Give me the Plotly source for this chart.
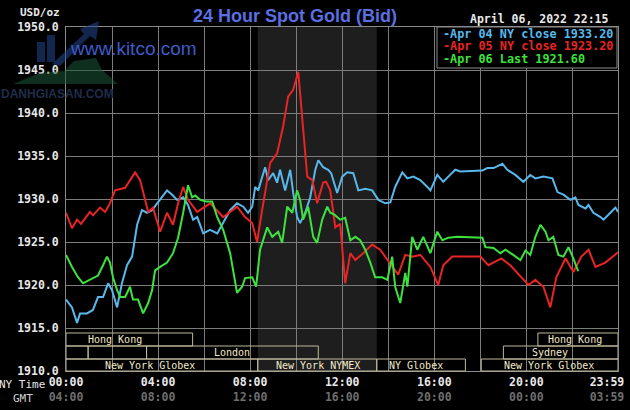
import plotly.graph_objects as go

# ---------------- data ----------------
apr04_t = [0.00,0.26,0.48,0.61,0.91,1.17,1.39,1.61,1.83,2.00,2.22,2.43,2.65,2.87,3.09,3.30,3.52,3.74,3.96,4.17,
           4.39,4.61,4.83,5.09,5.30,5.52,5.70,5.96,6.26,6.57,6.83,7.13,7.43,7.70,7.91,8.09,8.22,8.35,8.65,8.78,
           9.00,9.17,9.30,9.52,9.74,9.87,10.04,10.17,10.39,10.61,10.83,10.96,11.17,11.39,11.52,11.78,12.00,12.22,12.48,12.70,
           13.00,13.30,13.57,13.87,14.09,14.30,14.61,14.83,15.09,15.39,15.70,15.83,16.13,16.39,16.61,16.91,17.13,18.09,18.30,18.57,
           18.96,19.17,19.52,19.87,20.17,20.39,20.74,21.13,21.35,21.61,21.91,22.13,22.26,22.57,22.70,22.91,23.22,23.35,23.65,23.87,23.98]
apr04_p = [1918.3,1917.4,1915.6,1916.7,1916.7,1917.1,1918.6,1918.6,1920.2,1919.4,1917.4,1920.2,1922.3,1923.3,1927.0,1928.7,1928.4,1928.7,1929.5,1930.2,
           1931.0,1930.5,1929.9,1930.2,1929.3,1927.6,1927.9,1926.0,1926.4,1926.0,1927.2,1928.7,1929.5,1929.1,1928.4,1929.1,1931.4,1931.0,1933.7,1932.2,
           1933.0,1931.9,1933.4,1931.0,1933.4,1930.7,1927.9,1927.2,1928.4,1930.2,1933.4,1934.5,1933.7,1933.4,1933.0,1930.7,1932.6,1933.1,1933.0,1931.0,
           1931.2,1931.0,1929.9,1929.5,1929.6,1931.4,1933.1,1932.4,1932.6,1932.2,1931.4,1931.0,1932.8,1932.0,1932.6,1933.4,1933.2,1933.3,1933.6,1933.6,
           1934.1,1933.4,1932.8,1932.0,1932.8,1932.4,1932.6,1932.4,1930.8,1930.5,1929.9,1930.2,1929.3,1928.9,1929.3,1928.4,1927.9,1927.6,1928.4,1929.0,1928.5]

apr05_t = [0.00,0.26,0.48,0.65,1.04,1.17,1.48,1.70,1.91,2.13,2.57,3.00,3.22,3.43,3.57,3.78,4.09,4.39,4.65,4.87,
           5.09,5.30,5.52,5.70,6.26,6.83,7.43,7.78,8.09,8.30,8.52,8.87,9.17,9.43,9.65,9.87,10.09,10.26,10.48,10.70,
           10.91,11.17,11.30,11.48,11.70,11.91,12.13,12.35,12.57,12.91,13.30,13.65,13.96,14.17,14.43,14.74,15.04,15.39,15.83,16.17,
           16.39,16.78,17.13,18.00,18.35,18.91,19.30,19.78,20.09,20.39,20.74,21.04,21.30,21.70,22.04,22.39,22.70,23.00,23.43,23.98]
apr05_p = [1928.4,1926.6,1927.6,1927.1,1928.5,1928.1,1929.0,1928.5,1929.5,1931.0,1931.3,1933.1,1932.2,1929.9,1928.5,1929.0,1926.2,1928.4,1927.0,1929.5,
           1931.4,1929.9,1929.1,1928.5,1929.5,1927.9,1929.1,1927.9,1927.2,1925.0,1928.7,1934.2,1935.3,1938.4,1941.9,1942.7,1944.8,1939.2,1932.6,1932.2,
           1929.5,1931.9,1932.0,1931.0,1926.7,1927.1,1920.2,1923.7,1922.9,1923.7,1924.7,1924.1,1922.9,1922.1,1921.2,1923.5,1923.3,1923.5,1922.1,1920.0,
           1922.3,1923.3,1923.3,1923.3,1922.3,1923.1,1922.3,1920.9,1920.0,1920.6,1919.8,1917.4,1920.9,1923.1,1921.5,1923.3,1924.1,1922.1,1922.6,1923.8]

apr06_t = [0.00,0.26,0.52,0.74,0.96,1.17,1.39,1.61,1.78,1.91,2.04,2.22,2.35,2.57,2.78,2.91,3.13,3.35,3.57,3.74,
           3.87,4.09,4.39,4.65,4.87,5.09,5.30,5.48,5.61,5.83,6.09,6.35,6.57,6.83,7.13,7.43,7.65,7.78,8.09,8.26,
           8.43,8.74,8.96,9.22,9.39,9.61,9.83,10.04,10.17,10.30,10.52,10.74,10.91,11.13,11.35,11.48,11.65,11.91,12.13,12.35,
           12.57,12.78,13.00,13.22,13.43,13.74,13.96,14.17,14.30,14.52,14.74,14.83,15.04,15.26,15.52,15.83,16.13,16.35,16.61,17.00,
           18.09,18.22,18.57,18.87,19.09,19.43,19.74,19.96,20.17,20.39,20.61,20.83,20.96,21.17,21.39,21.61,21.83,22.04,22.25]
apr06_p = [1923.5,1922.1,1920.9,1920.2,1920.5,1920.8,1921.1,1922.3,1923.3,1922.6,1920.9,1919.4,1918.6,1918.6,1919.8,1918.3,1918.3,1916.7,1917.9,1919.4,
           1921.7,1922.1,1922.6,1923.7,1925.5,1928.4,1931.6,1930.2,1930.4,1929.9,1929.7,1929.7,1927.9,1926.4,1923.7,1919.1,1919.8,1920.8,1920.9,1919.8,
           1924.1,1926.7,1925.6,1926.2,1924.9,1929.1,1928.4,1931.0,1929.9,1927.6,1929.1,1925.6,1924.9,1927.6,1929.1,1928.4,1928.2,1927.6,1927.8,1925.2,
           1925.6,1925.2,1924.1,1922.6,1920.9,1920.9,1920.6,1923.3,1919.8,1917.9,1921.4,1919.8,1925.6,1924.1,1925.6,1923.7,1926.2,1925.2,1925.5,1925.6,
           1925.5,1924.4,1924.3,1923.7,1924.1,1923.5,1922.9,1924.0,1923.5,1925.6,1927.0,1926.2,1925.2,1925.6,1923.5,1923.3,1924.4,1923.1,1921.6]

series_names = ["Apr 04 NY close", "Apr 05 NY close", "Apr 06 Last"]
series_last = [1933.20, 1923.20, 1921.60]
series_colors = ["#58b8ec", "#e82424", "#3ee23e"]

y_ticks = [1910, 1915, 1920, 1925, 1930, 1935, 1940, 1945, 1950]
x_tick_hours = [0, 4, 8, 12, 16, 20, 23.5]
ny_labels = ["00:00", "04:00", "08:00", "12:00", "16:00", "20:00", "23:59"]
gmt_labels = ["04:00", "08:00", "12:00", "16:00", "20:00", "00:00", "03:59"]

# sessions: name, start hour, end hour, row, label hour
sessions = [
    ("Hong Kong", 0.0, 5.5, 0, 2.13),
    ("Hong Kong", 20.5, 23.98, 0, 22.1),
    ("", 0.0, 0.96, 1, None),
    ("", 0.96, 3.5, 1, None),
    ("London", 3.5, 10.96, 1, 7.2),
    ("Sydney", 19.0, 23.98, 1, 21.04),
    ("New York Globex", 0.0, 8.33, 2, 3.65),
    ("New York NYMEX", 8.33, 13.5, 2, 10.95),
    ("NY Globex", 13.5, 17.35, 2, 15.2),
    ("New York Globex", 18.04, 23.98, 2, 21.0),
]
nymex_shade = (8.33, 13.5)

# ---------------- figure ----------------
W, H = 630, 410
L, R, T, B = 66, 12, 27, 39
PW, PH = W - L - R, H - T - B

def px2x(px):
    return (px - L) / PW

def py2y(py):
    return (H - B - py) / PH

def poly(pts):
    return "M " + " L ".join(f"{px2x(a)} {py2y(b)}" for a, b in pts) + " Z"

MONO = "DejaVu Sans Mono"
fig = go.Figure()
for t, p, c, n in zip([apr04_t, apr05_t, apr06_t], [apr04_p, apr05_p, apr06_p], series_colors, series_names):
    fig.add_trace(go.Scatter(x=t, y=p, mode="lines", name=n,
                             line=dict(color=c, width=2), showlegend=False, hoverinfo="skip"))

shapes = []
shapes.append(dict(type="rect", xref="x", yref="paper", x0=nymex_shade[0], x1=nymex_shade[1],
                   y0=0, y1=1, fillcolor="#1e1e1e", line=dict(width=0), layer="below"))

row_px = [(333, 346), (346, 359), (359, 371)]
annotations = []
for name, s, e, row, lx in sessions:
    top, bot = row_px[row]
    shapes.append(dict(type="rect", xref="x", yref="paper", x0=s, x1=e,
                       y0=py2y(bot), y1=py2y(top), line=dict(color="#bfb89a", width=1),
                       fillcolor="rgba(0,0,0,0)", layer="above"))
    if name:
        annotations.append(dict(x=lx, y=py2y((top + bot) / 2), xref="x", yref="paper", text=name,
                                showarrow=False, font=dict(family=MONO, size=10, color="#f2eac8"),
                                xanchor="center", yanchor="middle"))

# legend box
shapes.append(dict(type="rect", xref="paper", yref="paper", x0=px2x(437), x1=px2x(617),
                   y0=py2y(68), y1=py2y(27), fillcolor="#000000", line=dict(color="#8a8a8a", width=1),
                   layer="above"))
for i, (n, v, c) in enumerate(zip(series_names, series_last, series_colors)):
    annotations.append(dict(x=px2x(441), y=py2y(34 + 12.3 * i), xref="paper", yref="paper",
                            text=f"-{n} {v:.2f}", showarrow=False, xanchor="left", yanchor="middle",
                            font=dict(family=MONO, size=11.8, color=c, weight="bold")))

# logo watermark (faint)
LOGO_BLUE = "rgba(35,70,140,0.55)"
LOGO_GREEN = "rgba(25,85,55,0.55)"
shapes += [
    dict(type="path", xref="paper", yref="paper", path=poly([(37, 62), (37, 42), (45, 42), (45, 62)]),
         fillcolor=LOGO_BLUE, line=dict(width=0), layer="above"),
    dict(type="path", xref="paper", yref="paper", path=poly([(47, 62), (47, 35), (55, 35), (55, 62)]),
         fillcolor=LOGO_BLUE, line=dict(width=0), layer="above"),
    dict(type="path", xref="paper", yref="paper",
         path=poly([(52, 64), (84, 34), (80, 29), (99, 21), (96, 40), (90, 36), (60, 66)]),
         fillcolor=LOGO_BLUE, line=dict(width=0), layer="above"),
    dict(type="path", xref="paper", yref="paper",
         path=poly([(13, 84), (40, 73), (64, 71), (74, 61), (96, 58), (102, 70), (118, 84)]),
         fillcolor=LOGO_GREEN, line=dict(width=0), layer="above"),
]

annotations += [
    dict(x=px2x(295), y=py2y(16), xref="paper", yref="paper", text="<b>24 Hour Spot Gold (Bid)</b>",
         showarrow=False, font=dict(family="Liberation Sans", size=18, color="#5a6fe0"),
         xanchor="center", yanchor="middle"),
    dict(x=px2x(40), y=py2y(13), xref="paper", yref="paper", text="USD/oz", showarrow=False,
         font=dict(family=MONO, size=11, color="#e8e8e8", weight="bold"), xanchor="center", yanchor="middle"),
    dict(x=px2x(539), y=py2y(19), xref="paper", yref="paper", text="April 06, 2022 22:15", showarrow=False,
         font=dict(family=MONO, size=11.5, color="#e8e8e8", weight="bold"), xanchor="center", yanchor="middle"),
    dict(x=px2x(68), y=py2y(48), xref="paper", yref="paper", text="www.kitco.com", showarrow=False,
         font=dict(family="Liberation Sans", size=19, color="#3d5cc8"), xanchor="left", yanchor="middle"),
    dict(x=px2x(57), y=py2y(94), xref="paper", yref="paper", text="<b>DANHGIASAN.COM</b>", showarrow=False,
         font=dict(family="Liberation Sans", size=12, color="#1f2c4a"), xanchor="center", yanchor="middle"),
    dict(x=px2x(22), y=py2y(384), xref="paper", yref="paper", text="NY Time", showarrow=False,
         font=dict(family=MONO, size=11, color="#e8e8e8"), xanchor="center", yanchor="middle"),
    dict(x=px2x(23), y=py2y(398), xref="paper", yref="paper", text="GMT", showarrow=False,
         font=dict(family=MONO, size=11, color="#d0d0d0"), xanchor="center", yanchor="middle"),
]

ticktext = [f"{a}<br><span style='color:#6e6e6e'>{b}</span>" for a, b in zip(ny_labels, gmt_labels)]

fig.update_layout(
    width=W, height=H, margin=dict(l=L, r=R, t=T, b=B, autoexpand=False),
    paper_bgcolor="#000000", plot_bgcolor="#000000",
    shapes=shapes, annotations=annotations,
    xaxis=dict(range=[0, 23.98], tickmode="array", tickvals=x_tick_hours, ticktext=ticktext,
               showgrid=False, zeroline=False, showline=True, mirror=True, linecolor="#8a8a8a",
               ticks="", tickfont=dict(family=MONO, size=11.5, color="#e8e8e8", weight="bold"),
               minor=dict(tickmode="linear", tick0=0, dtick=2, showgrid=True, gridcolor="#7c7c7c",
                          gridwidth=1, ticks=""),
               fixedrange=True),
    yaxis=dict(range=[1910, 1950], tickmode="array", tickvals=y_ticks,
               ticktext=[f"{v:.1f}" for v in y_ticks], showgrid=True, gridcolor="#7c7c7c", gridwidth=1,
               zeroline=False, showline=True, mirror=True, linecolor="#8a8a8a",
               ticks="outside", ticklen=4, tickcolor="#000000",
               tickfont=dict(family=MONO, size=11.5, color="#e8e8e8", weight="bold"), fixedrange=True),
)

fig.write_html("out.html", config={"displayModeBar": False},
               post_script="document.body.style.margin='0';document.body.style.background='#000';")
